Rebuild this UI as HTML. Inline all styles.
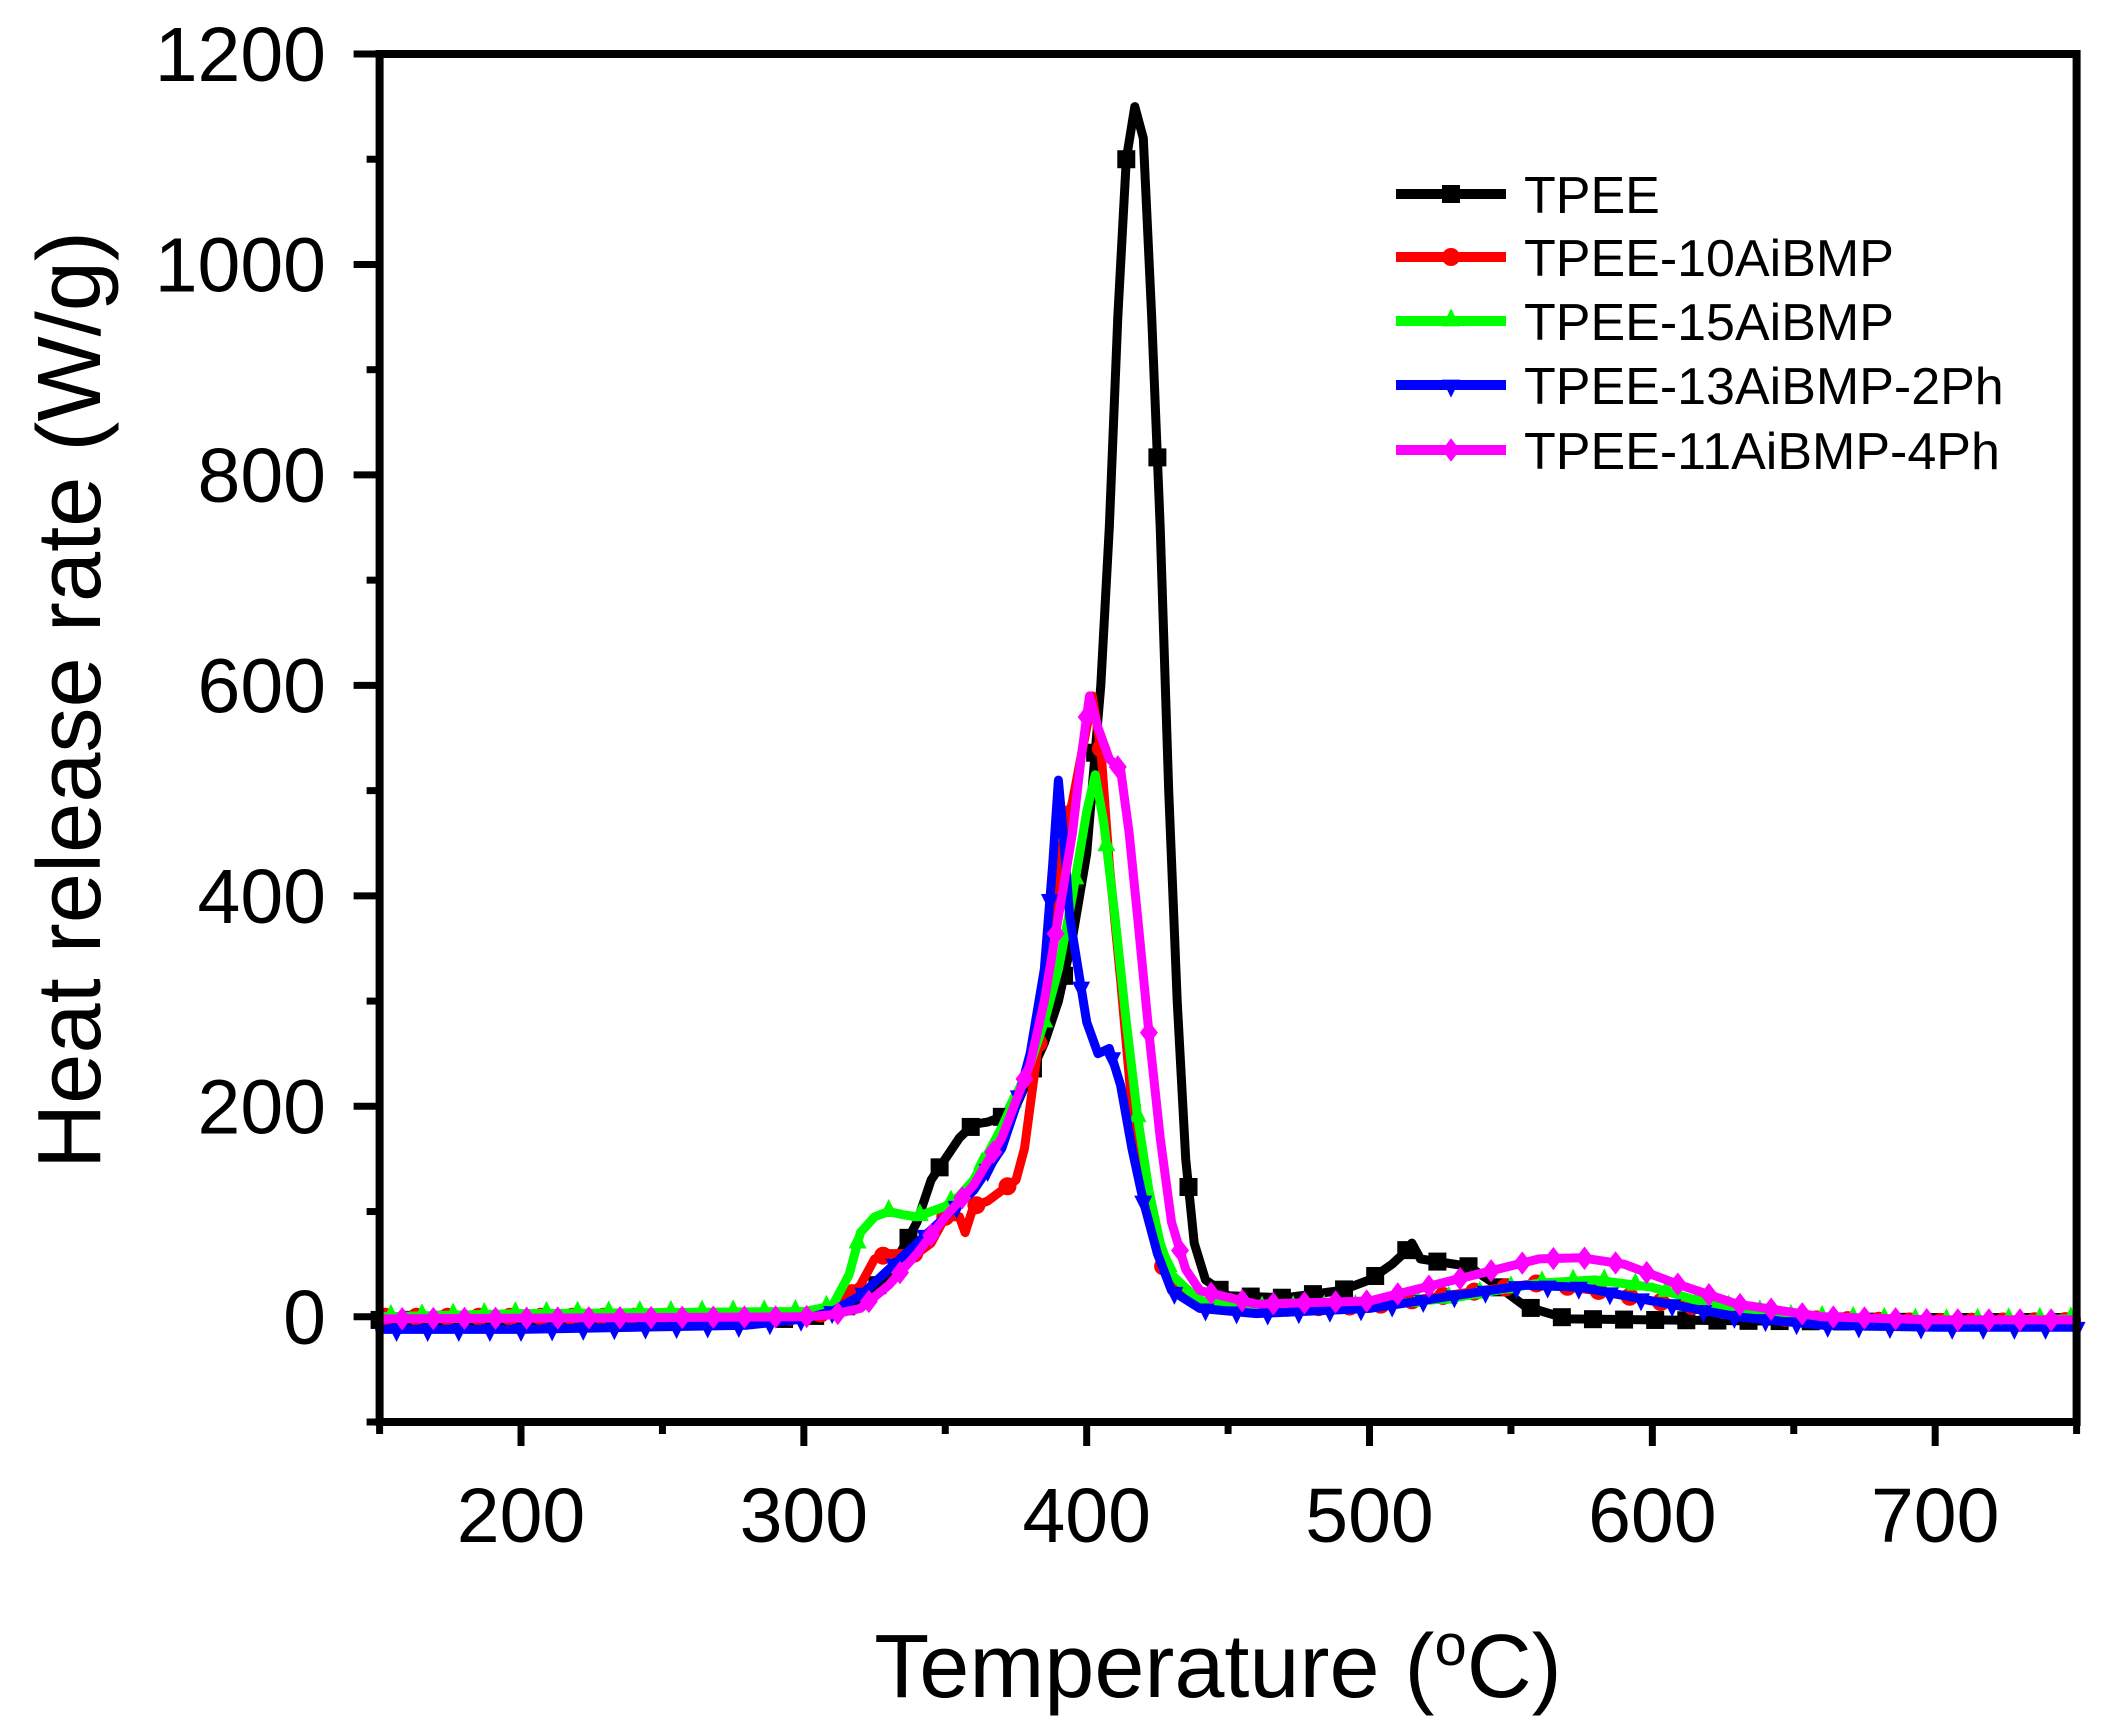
<!DOCTYPE html>
<html><head><meta charset="utf-8"><style>
html,body{margin:0;padding:0;background:#fff;}
svg{display:block;font-family:"Liberation Sans",Arial,sans-serif;}
</style></head><body>
<svg id="chart" width="2113" height="1721" viewBox="0 0 2113 1721" xmlns="http://www.w3.org/2000/svg">
<g id="series"></g>
<g id="axes"></g>
<g id="legend"></g>
</svg>
<script>
const xTicks=[200,300,400,500,600,700];
const yTicks=[0,200,400,600,800,1000,1200];
const seriesNames=["TPEE","TPEE-10AiBMP","TPEE-15AiBMP","TPEE-13AiBMP-2Ph","TPEE-11AiBMP-4Ph"];
const tpeeT=[150,300,310,320,330,340,345,350,355,360,365,370,375,380,385,390,395,400,405,408,411,414,417,420,423,426,429,432,435,438,442,450,470,490,500,508,512,515,518,525,535,545,555,570,600,640,700,750];
const tpeeV=[-3,-2,5,15,40,90,130,150,170,183,185,190,200,230,260,300,360,440,600,750,950,1100,1150,1120,950,750,500,300,150,70,35,20,18,25,35,50,60,70,55,52,48,30,10,-2,-3,-4,-5,-5];
const r10T=[150,300,310,320,325,330,340,345,350,355,357,360,365,370,375,378,380,383,387,390,395,400,402,405,408,412,416,420,425,430,440,460,500,540,560,580,600,620,650,700,750];
const r10V=[0,0,5,30,55,60,60,70,95,95,80,105,110,120,130,160,200,260,350,430,490,560,590,540,430,320,200,120,60,30,15,8,10,25,32,25,15,8,-2,-5,-4];
const g15T=[150,200,300,310,316,320,325,330,335,340,345,350,355,360,365,370,375,380,385,390,395,400,403,406,410,414,418,422,426,430,440,460,500,530,560,580,600,620,650,700,750];
const g15V=[0,3,5,10,40,80,95,100,97,95,100,105,115,130,155,180,210,240,280,330,400,480,515,470,380,280,190,120,70,40,15,8,10,18,32,35,28,12,0,-4,-2];
const b13T=[150,200,280,300,310,320,330,340,350,360,370,375,380,385,388,390,392,394,397,400,404,408,412,416,420,425,430,440,460,500,530,555,575,600,630,660,700,750];
const b13V=[-12,-12,-8,-2,5,20,45,70,95,120,160,200,250,330,430,510,450,380,330,280,250,255,220,160,110,60,25,8,3,8,20,30,28,15,0,-8,-10,-10];
const m11T=[150,300,310,320,330,340,350,360,370,380,385,390,395,398,401,404,408,412,415,418,422,426,430,435,440,460,500,530,560,575,590,610,630,660,700,750];
const m11V=[-2,0,2,8,30,60,95,125,170,240,300,380,460,530,590,560,530,520,460,380,270,170,90,45,25,12,15,35,55,56,50,30,12,0,-3,-3];

const NS="http://www.w3.org/2000/svg";
const X0=150,X1=750,PX0=379.6,PX1=2076.6;
const Y0=-100,Y1=1200,PY0=1422,PY1=54;
function xs(v){return PX0+(v-X0)*(PX1-PX0)/(X1-X0);}
function ys(v){return PY0+(v-Y0)*(PY1-PY0)/(Y1-Y0);}
function mk(tag,attrs,parent){const e=document.createElementNS(NS,tag);for(const k in attrs)e.setAttribute(k,attrs[k]);parent.appendChild(e);return e;}
function interp(T,V,t){for(let i=0;i<T.length-1;i++){if(t>=T[i]&&t<=T[i+1]){return V[i]+(V[i+1]-V[i])*(t-T[i])/(T[i+1]-T[i]);}}return V[V.length-1];}
function marker(shape,cx,cy,color,parent){
  const s=9;let e;
  if(shape==="square")e=mk("rect",{x:cx-s,y:cy-s,width:2*s,height:2*s,fill:color},parent);
  else if(shape==="circle")e=mk("circle",{cx:cx,cy:cy,r:s,fill:color},parent);
  else if(shape==="up")e=mk("polygon",{points:`${cx},${cy-s*1.4} ${cx-s},${cy+s*0.6} ${cx+s},${cy+s*0.6}`,fill:color},parent);
  else if(shape==="down")e=mk("polygon",{points:`${cx},${cy+s*1.4} ${cx-s},${cy-s*0.6} ${cx+s},${cy-s*0.6}`,fill:color},parent);
  else e=mk("polygon",{points:`${cx},${cy-s*1.3} ${cx+s},${cy} ${cx},${cy+s*1.3} ${cx-s},${cy}`,fill:color},parent);
  return e;
}
const seriesT=[tpeeT,r10T,g15T,b13T,m11T];
const seriesV=[tpeeV,r10V,g15V,b13V,m11V];
const colors=["#000000","#ff0000","#00ff00","#0000ff","#ff00ff"];
const shapes=["square","circle","up","down","diamond"];
const slugs=["tpee","tpee-10aibmp","tpee-15aibmp","tpee-13aibmp-2ph","tpee-11aibmp-4ph"];
const sg=document.getElementById("series");
for(let s=0;s<5;s++){
  const g=mk("g",{},sg);
  
  
  const T=seriesT[s],V=seriesV[s];
  const d=T.map((t,i)=>(i?"L":"M")+xs(t).toFixed(1)+","+ys(V[i]).toFixed(1)).join(" ");
  const p=mk("path",{d:d,fill:"none",stroke:colors[s],"stroke-width":9,"stroke-linejoin":"round","stroke-linecap":"round"},g);
  
  
  for(let t=T[0]+2*s;t<=T[T.length-1];t+=11){
    const m=marker(shapes[s],xs(t),ys(interp(T,V,t)),colors[s],g);
    
    
  }
}
const ag=document.getElementById("axes");
const frame=mk("rect",{x:PX0,y:PY1,width:PX1-PX0,height:PY0-PY1,fill:"none",stroke:"#000","stroke-width":8},ag);


for(let v=X0;v<=X1;v+=50){
  const major=xTicks.indexOf(v)>=0;
  const t=mk("line",{x1:xs(v),x2:xs(v),y1:PY0,y2:PY0+(major?24:12),stroke:"#000","stroke-width":7},ag);
  
  
}
for(let v=Y0;v<=Y1;v+=100){
  const major=yTicks.indexOf(v)>=0;
  const t=mk("line",{x1:PX0,x2:PX0-(major?26:13),y1:ys(v),y2:ys(v),stroke:"#000","stroke-width":7},ag);
  
  
}
xTicks.forEach(v=>{
  const t=mk("text",{x:xs(v),y:1542,"font-size":77,"text-anchor":"middle",fill:"#000"},ag);
  t.textContent=v;
  
  
});
yTicks.forEach(v=>{
  const t=mk("text",{x:326,y:ys(v)+27,"font-size":77,"text-anchor":"end",fill:"#000"},ag);
  t.textContent=v;
  
  
});
const xt=mk("text",{x:1218,y:1697,"font-size":90,"text-anchor":"middle",fill:"#000"},ag);
xt.innerHTML='Temperature (<tspan font-size="58" dy="-32">o</tspan><tspan dy="32">C)</tspan>';


const yt=mk("text",{x:0,y:0,"font-size":90,"text-anchor":"middle",fill:"#000",transform:"translate(100,700) rotate(-90)",textLength:938,lengthAdjust:"spacingAndGlyphs"},ag);
yt.textContent="Heat release rate (W/g)";


const lg=document.getElementById("legend");
const rows=[194,257,321,385,450];
for(let s=0;s<5;s++){
  const g=mk("g",{},lg);
  
  
  mk("line",{x1:1396,x2:1506,y1:rows[s],y2:rows[s],stroke:colors[s],"stroke-width":10},g);
  marker(shapes[s],1451,rows[s],colors[s],g);
  const t=mk("text",{x:1524,y:rows[s]+19,"font-size":52,fill:"#000"},g);
  t.textContent=seriesNames[s];
}
</script>
</body></html>
